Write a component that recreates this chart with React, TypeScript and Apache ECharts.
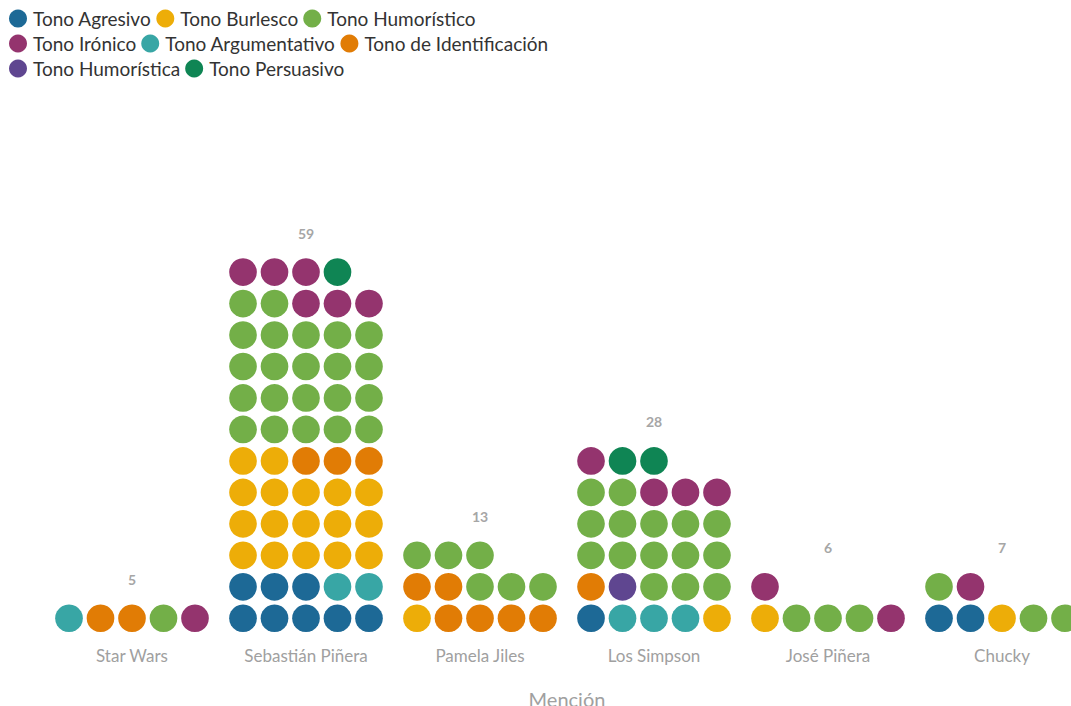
import React, { useEffect, useRef } from 'react';
import * as echarts from 'echarts';

const categories = ['Star Wars', 'Sebastián Piñera', 'Pamela Jiles', 'Los Simpson', 'José Piñera', 'Chucky'];

// stack order (fill order from bottom-left)
const toneNames = [
  'Tono Agresivo',
  'Tono Argumentativo',
  'Tono Burlesco',
  'Tono de Identificación',
  'Tono Humorística',
  'Tono Humorístico',
  'Tono Irónico',
  'Tono Persuasivo',
];
const agresivo = [0, 8, 0, 1, 0, 2];
const argumentativo = [1, 2, 0, 3, 0, 0];
const burlesco = [0, 17, 1, 1, 1, 1];
const identificacion = [2, 3, 6, 1, 0, 0];
const humoristica = [0, 0, 0, 1, 0, 0];
const humoristico = [1, 22, 6, 15, 3, 3];
const ironico = [1, 6, 0, 4, 2, 1];
const persuasivo = [0, 1, 0, 2, 0, 0];
const toneValues = [agresivo, argumentativo, burlesco, identificacion, humoristica, humoristico, ironico, persuasivo];
const toneColors = ['#1D6996', '#38A6A5', '#EDAD08', '#E17C05', '#5F4690', '#73AF48', '#94346E', '#0F8554'];

const legendRow1 = ['Tono Agresivo', 'Tono Burlesco', 'Tono Humorístico'];
const legendRow2 = ['Tono Irónico', 'Tono Argumentativo', 'Tono de Identificación'];
const legendRow3 = ['Tono Humorística', 'Tono Persuasivo'];

const PER_ROW = 5;
const FONT = 'Lato, "Noto Sans", sans-serif';

function buildOption() {
  const counters = categories.map(() => 0);
  const dotSeries = toneNames.map((name, t) => {
    const data: number[][] = [];
    categories.forEach((_, c) => {
      const n = toneValues[t][c];
      for (let i = 0; i < n; i++) {
        const k = counters[c]++;
        data.push([c, Math.floor(k / PER_ROW), k % PER_ROW]);
      }
    });
    return {
      name,
      type: 'custom',
      color: toneColors[t],
      itemStyle: { color: toneColors[t] },
      encode: { x: 0, y: 1 },
      data,
      renderItem: (params: any, api: any) => {
        const cat = api.value(0);
        const row = api.value(1);
        const col = api.value(2);
        const p = api.coord([cat, row]);
        const band = api.size([1, 0])[0];
        const rowH = api.size([0, 1])[1];
        const step = band * 0.181;
        return {
          type: 'circle',
          shape: { cx: p[0] + (col - 2) * step, cy: p[1], r: rowH * 0.44 },
          style: { fill: api.visual('color') },
        };
      },
    };
  });

  const totals = categories.map((_, c) => toneValues.reduce((s, arr) => s + arr[c], 0));
  const totalData = totals.map((tot, c) => [c, Math.ceil(tot / PER_ROW) - 1, tot]);

  const totalSeries = {
    name: 'Total',
    type: 'custom',
    encode: { x: 0, y: 1 },
    data: totalData,
    renderItem: (params: any, api: any) => {
      const p = api.coord([api.value(0), api.value(1)]);
      const rowH = api.size([0, 1])[1];
      return {
        type: 'text',
        style: {
          text: String(api.value(2)),
          x: p[0],
          y: p[1] - rowH * 1.24,
          fill: '#a6a6a6',
          fontSize: 14,
          fontWeight: 'bold',
          fontFamily: FONT,
          align: 'center',
          verticalAlign: 'middle',
        },
      };
    },
  };

  const legendBase = {
    left: 9,
    padding: 0,
    itemWidth: 18,
    itemHeight: 18,
    itemGap: 5,
    icon: 'circle',
    textStyle: { fontSize: 19, color: '#333', fontFamily: FONT, padding: [0, 0, 0, 1] },
  };

  return {
    animation: false,
    legend: [
      { ...legendBase, top: 9, data: legendRow1 },
      { ...legendBase, top: 34, data: legendRow2 },
      { ...legendBase, top: 59, data: legendRow3 },
    ],
    grid: { left: 45, right: 31, top: 99, bottom: 72, outerBoundsMode: 'none', containLabel: false },
    xAxis: {
      type: 'category',
      data: categories,
      axisLine: { show: false },
      axisTick: { show: false },
      axisLabel: { color: '#a0a0a0', fontSize: 17, fontFamily: FONT, margin: 13 },
      name: 'Mención',
      nameLocation: 'middle',
      nameGap: 55,
      nameTextStyle: { color: '#a0a0a0', fontSize: 20, fontFamily: FONT },
    },
    yAxis: { type: 'value', min: -0.5, max: 16.5, show: false },
    series: [...dotSeries, totalSeries],
  };
}

export default function App() {
  const ref = useRef<HTMLDivElement>(null);
  useEffect(() => {
    if (!ref.current) return;
    const chart = echarts.init(ref.current, undefined, { renderer: 'svg' });
    chart.setOption(buildOption() as any);
    return () => chart.dispose();
  }, []);
  return (
    <div style={{ position: 'fixed', left: 0, top: 0, width: 1071, height: 706, overflow: 'hidden', background: '#fff' }}>
      <div ref={ref} style={{ width: 1120, height: 706 }} />
    </div>
  );
}
